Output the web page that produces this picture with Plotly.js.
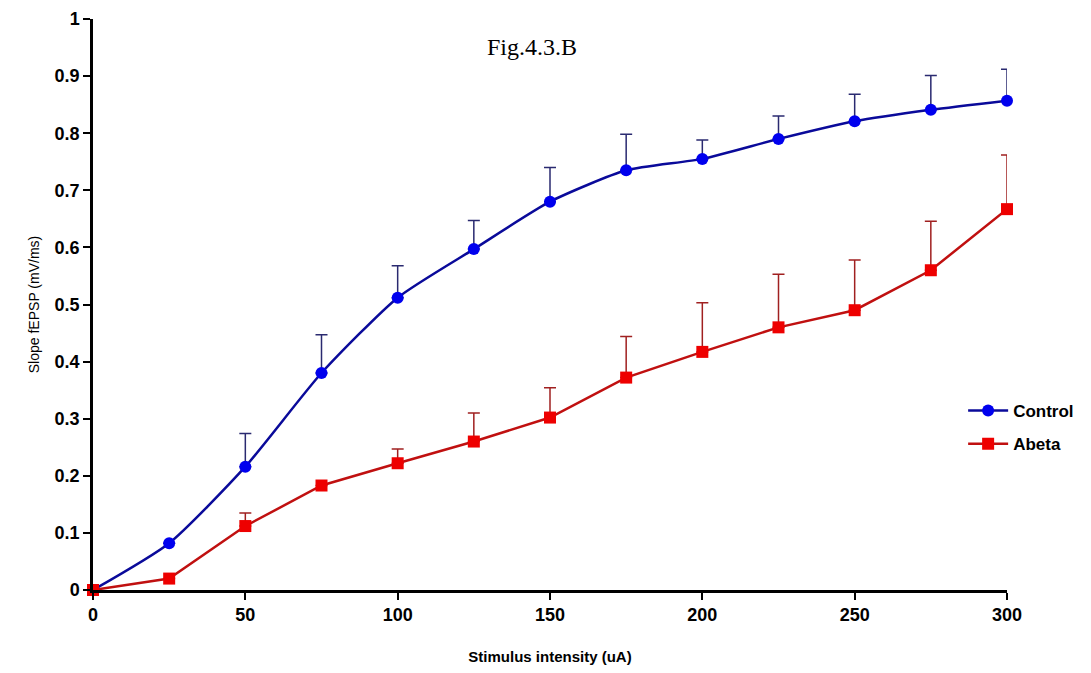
<!DOCTYPE html>
<html>
<head>
<meta charset="utf-8">
<script src="https://cdn.plot.ly/plotly-3.0.1.min.js"></script>
<style>html,body{margin:0;padding:0;background:#fff;}#chart{width:1091px;height:673px;}</style>
</head>
<body>
<div id="chart"></div>
<script>
const stimulus = [0, 25, 50, 75, 100, 125, 150, 175, 200, 225, 250, 275, 300];
const controlMean = [0, 0.082, 0.216, 0.38, 0.512, 0.597, 0.68, 0.735, 0.755, 0.79, 0.821, 0.841, 0.857];
const controlErr = [0, 0, 0.058, 0.067, 0.056, 0.05, 0.06, 0.063, 0.033, 0.04, 0.047, 0.06, 0.055];
const abetaMean = [0, 0.02, 0.112, 0.183, 0.222, 0.26, 0.302, 0.372, 0.417, 0.46, 0.49, 0.56, 0.667];
const abetaErr = [0, 0, 0.023, 0, 0.025, 0.05, 0.052, 0.072, 0.086, 0.093, 0.088, 0.086, 0.095];
const yTicks = [0, 0.1, 0.2, 0.3, 0.4, 0.5, 0.6, 0.7, 0.8, 0.9, 1];
const yTickText = ['0', '0.1', '0.2', '0.3', '0.4', '0.5', '0.6', '0.7', '0.8', '0.9', '1'];
const xTicks = [0, 50, 100, 150, 200, 250, 300];

const traces = [
  {
    x: stimulus, y: controlMean, name: 'Control', legendgroup: 'control', type: 'scatter', mode: 'lines+markers', cliponaxis: false,
    line: {color: '#0a0a9a', width: 2.5, shape: 'spline', smoothing: 0.6},
    marker: {color: '#0000ee', size: 12, symbol: 'circle'},
    error_y: {type: 'data', array: controlErr, arrayminus: controlErr.map(() => 0), symmetric: false, color: '#2a2a70', thickness: 1.5, width: 6}
  },
  {
    x: stimulus, y: abetaMean, name: 'Abeta', legendgroup: 'abeta', type: 'scatter', mode: 'lines+markers', cliponaxis: false,
    line: {color: '#c01010', width: 2.5},
    marker: {color: '#ee0000', size: 12, symbol: 'square'},
    error_y: {type: 'data', array: abetaErr, arrayminus: abetaErr.map(() => 0), symmetric: false, color: '#a02020', thickness: 1.5, width: 6}
  }
];

const layout = {
  width: 1091, height: 673,
  margin: {l: 93, r: 84, t: 19, b: 83},
  paper_bgcolor: '#ffffff', plot_bgcolor: '#ffffff',
  font: {family: 'Liberation Sans, Arial, sans-serif', color: '#000'},
  showlegend: true,
  legend: {x: 0.952, y: 0.345, xanchor: 'left', yanchor: 'top', bgcolor: 'rgba(0,0,0,0)', traceorder: 'grouped',
    font: {size: 17, family: 'Liberation Sans, Arial, sans-serif', weight: 'bold'}, itemwidth: 40, tracegroupgap: 8},
  xaxis: {
    range: [0, 300], tickvals: xTicks, ticktext: xTicks.map(String),
    showgrid: false, zeroline: false, showline: true, linecolor: '#000', linewidth: 2.5,
    ticks: 'outside', ticklen: 7, tickwidth: 2, tickcolor: '#000',
    tickfont: {size: 18, weight: 'bold'},
    title: {text: 'Stimulus intensity (uA)', font: {size: 15, weight: 'bold'}, standoff: 28}
  },
  yaxis: {
    range: [0, 1], tickvals: yTicks, ticktext: yTickText,
    showgrid: false, zeroline: false, showline: true, linecolor: '#000', linewidth: 2.5,
    ticks: 'outside', ticklen: 7, tickwidth: 2, tickcolor: '#000',
    tickfont: {size: 18, weight: 'bold'},
    title: {text: 'Slope fEPSP (mV/ms)', font: {size: 14, color: '#000'}, standoff: 12}
  },
  annotations: [{
    text: 'Fig.4.3.B', xref: 'paper', yref: 'paper', x: 0.48, y: 0.951, yanchor: 'middle', xanchor: 'center',
    showarrow: false, font: {family: 'Liberation Serif, Times New Roman, serif', size: 24, color: '#000'}
  }]
};

Plotly.newPlot('chart', traces, layout, {displayModeBar: false});
</script>
</body>
</html>
